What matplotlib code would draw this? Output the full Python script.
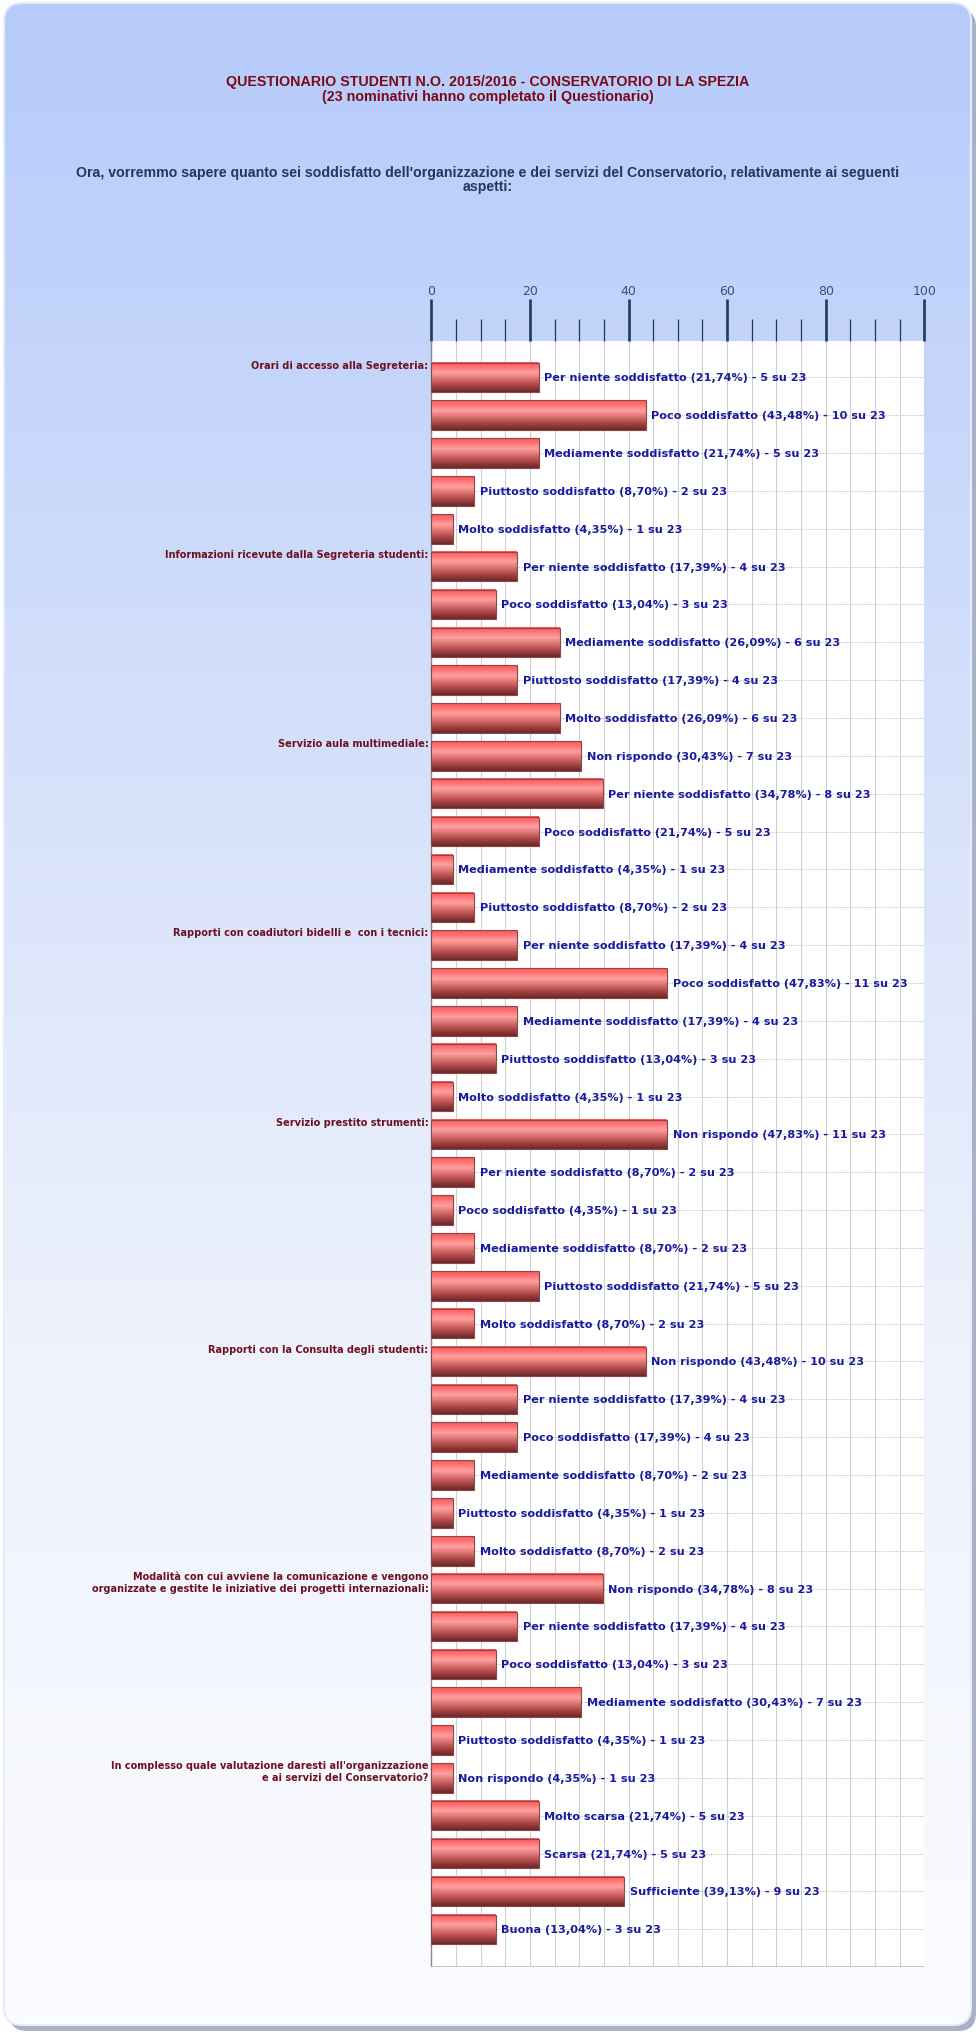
import numpy as np
import matplotlib
matplotlib.use('Agg')
import matplotlib.pyplot as plt
from matplotlib.patches import FancyBboxPatch
from matplotlib.colors import LinearSegmentedColormap
import matplotlib.transforms as mtransforms

title = 'QUESTIONARIO STUDENTI N.O. 2015/2016 - CONSERVATORIO DI LA SPEZIA\n(23 nominativi hanno completato il Questionario)'
subtitle = ("Ora, vorremmo sapere quanto sei soddisfatto dell'organizzazione e dei servizi del Conservatorio, relativamente ai seguenti\naspetti:")

groups = [
    'Orari di accesso alla Segreteria:',
    'Informazioni ricevute dalla Segreteria studenti:',
    'Servizio aula multimediale:',
    'Rapporti con coadiutori bidelli e  con i tecnici:',
    'Servizio prestito strumenti:',
    'Rapporti con la Consulta degli studenti:',
    'Modalità con cui avviene la comunicazione e vengono\norganizzate e gestite le iniziative dei progetti internazionali:',
    "In complesso quale valutazione daresti all'organizzazione\ne ai servizi del Conservatorio?",
]

answers = [
    ['Per niente soddisfatto', 'Poco soddisfatto', 'Mediamente soddisfatto', 'Piuttosto soddisfatto', 'Molto soddisfatto'],
    ['Per niente soddisfatto', 'Poco soddisfatto', 'Mediamente soddisfatto', 'Piuttosto soddisfatto', 'Molto soddisfatto'],
    ['Non rispondo', 'Per niente soddisfatto', 'Poco soddisfatto', 'Mediamente soddisfatto', 'Piuttosto soddisfatto'],
    ['Per niente soddisfatto', 'Poco soddisfatto', 'Mediamente soddisfatto', 'Piuttosto soddisfatto', 'Molto soddisfatto'],
    ['Non rispondo', 'Per niente soddisfatto', 'Poco soddisfatto', 'Mediamente soddisfatto', 'Piuttosto soddisfatto', 'Molto soddisfatto'],
    ['Non rispondo', 'Per niente soddisfatto', 'Poco soddisfatto', 'Mediamente soddisfatto', 'Piuttosto soddisfatto', 'Molto soddisfatto'],
    ['Non rispondo', 'Per niente soddisfatto', 'Poco soddisfatto', 'Mediamente soddisfatto', 'Piuttosto soddisfatto'],
    ['Non rispondo', 'Molto scarsa', 'Scarsa', 'Sufficiente', 'Buona'],
]

counts = [
    [5, 10, 5, 2, 1],
    [4, 3, 6, 4, 6],
    [7, 8, 5, 1, 2],
    [4, 11, 4, 3, 1],
    [11, 2, 1, 2, 5, 2],
    [10, 4, 4, 2, 1, 2],
    [8, 4, 3, 7, 1],
    [1, 5, 5, 9, 3],
]

perc = [
    [21.74, 43.48, 21.74, 8.70, 4.35],
    [17.39, 13.04, 26.09, 17.39, 26.09],
    [30.43, 34.78, 21.74, 4.35, 8.70],
    [17.39, 47.83, 17.39, 13.04, 4.35],
    [47.83, 8.70, 4.35, 8.70, 21.74, 8.70],
    [43.48, 17.39, 17.39, 8.70, 4.35, 8.70],
    [34.78, 17.39, 13.04, 30.43, 4.35],
    [4.35, 21.74, 21.74, 39.13, 13.04],
]
total = 23

W, H = 980, 2040
fig = plt.figure(figsize=(W / 100, H / 100), dpi=100)
fig.patch.set_facecolor('white')

# background panel with vertical gradient
bg = fig.add_axes([0, 0, 1, 1])
bg.set_xlim(0, W)
bg.set_ylim(H, 0)
bg.axis('off')
shadow = FancyBboxPatch((9, 10), 967, 2022, boxstyle='round,pad=0,rounding_size=18',
                        facecolor='#a9b0c8', edgecolor='none', zorder=0)
bg.add_patch(shadow)
panel = FancyBboxPatch((4, 4), 967, 2022, boxstyle='round,pad=0,rounding_size=18',
                       facecolor='none', edgecolor='#e6ecfa', lw=1.5, zorder=2)
bg.add_patch(panel)
grad = np.linspace(0, 1, 256).reshape(-1, 1)
bgcmap = LinearSegmentedColormap.from_list('bg', ['#b6cbfb', '#d2defa', '#eef2fc', '#fbfcff'])
im = bg.imshow(grad, cmap=bgcmap, extent=(4, 971, 2026, 4), aspect='auto', zorder=1)
im.set_clip_path(panel)

fig.text(0.4975, 1 - 89.5 / H, title, ha='center', va='center', color='#7a0a1a',
         fontsize=10.3, family=['Liberation Sans', 'DejaVu Sans'], fontweight='bold', linespacing=1.08)
fig.text(0.4975, 1 - 180 / H, subtitle, ha='center', va='center', color='#1d3a60',
         fontsize=10.2, family=['Liberation Sans', 'DejaVu Sans'], fontweight='bold', linespacing=1.02)

ax = fig.add_axes([431.4 / W, 1 - 1967 / H, (924.3 - 431.4) / W, (1967 - 342) / H])
ax.set_facecolor('white')

barcmap = LinearSegmentedColormap.from_list('bar', [
    (0.0, '#ff5656'), (0.12, '#ff6c6c'), (0.35, '#ffa0a0'), (0.6, '#d46868'),
    (0.85, '#963a3a'), (1.0, '#6a2828')])
bh = 0.78
gimg = np.linspace(0, 1, 64).reshape(-1, 1)

idx = 0
label_tr = mtransforms.blended_transform_factory(ax.transAxes, ax.transData)
for g, name in enumerate(groups):
    ax.text(-0.006, idx - bh / 2 - 0.08, name, transform=label_tr, ha='right', va='top',
            fontsize=7.0, fontweight='bold', color='#6e1020', multialignment='right',
            linespacing=1.2)
    for a, c, p in zip(answers[g], counts[g], perc[g]):
        ax.axhline(idx, color='#b4b4b4', lw=0.7, ls=(0, (1, 1.5)), zorder=1)
        ax.imshow(gimg, cmap=barcmap, extent=(0, p, idx + bh / 2, idx - bh / 2),
                  aspect='auto', zorder=3, interpolation='bilinear')
        ax.barh(idx, p, height=bh, facecolor='none', edgecolor='#8a4848', lw=0.8, zorder=4)
        lab = '%s (%s%%) - %d su %d' % (a, ('%.2f' % p).replace('.', ','), c, total)
        ax.text(p + 1.1, idx, lab, va='center', ha='left', fontsize=8.1,
                fontweight='bold', color='#1a1a9e', zorder=5)
        idx += 1

ax.set_xlim(0, 100)
ax.set_ylim(41.97, -0.96)
ax.set_yticks([])
ax.xaxis.tick_top()
ax.set_xticks(np.arange(0, 101, 20))
ax.set_xticks(np.arange(0, 101, 5), minor=True)
ax.tick_params(axis='x', which='major', direction='out', length=30, width=1.9,
               color='#1e3a5c', labelsize=9, labelcolor='#34507a', pad=2)
ax.tick_params(axis='x', which='minor', direction='out', length=16, width=0.9, color='#1e3a5c')
ax.grid(axis='x', which='both', color='#d0d0d0', lw=0.8, zorder=0)
ax.set_axisbelow(True)
for s in ['top', 'right']:
    ax.spines[s].set_visible(False)
ax.spines['bottom'].set_linestyle((0, (1, 1.5)))
ax.spines['bottom'].set_color('#b4b4b4')
ax.spines['bottom'].set_linewidth(0.7)
ax.spines['left'].set_color('#8a8a8a')
ax.spines['left'].set_linewidth(1.0)

fig.savefig('out.png', dpi=100, facecolor='white')
